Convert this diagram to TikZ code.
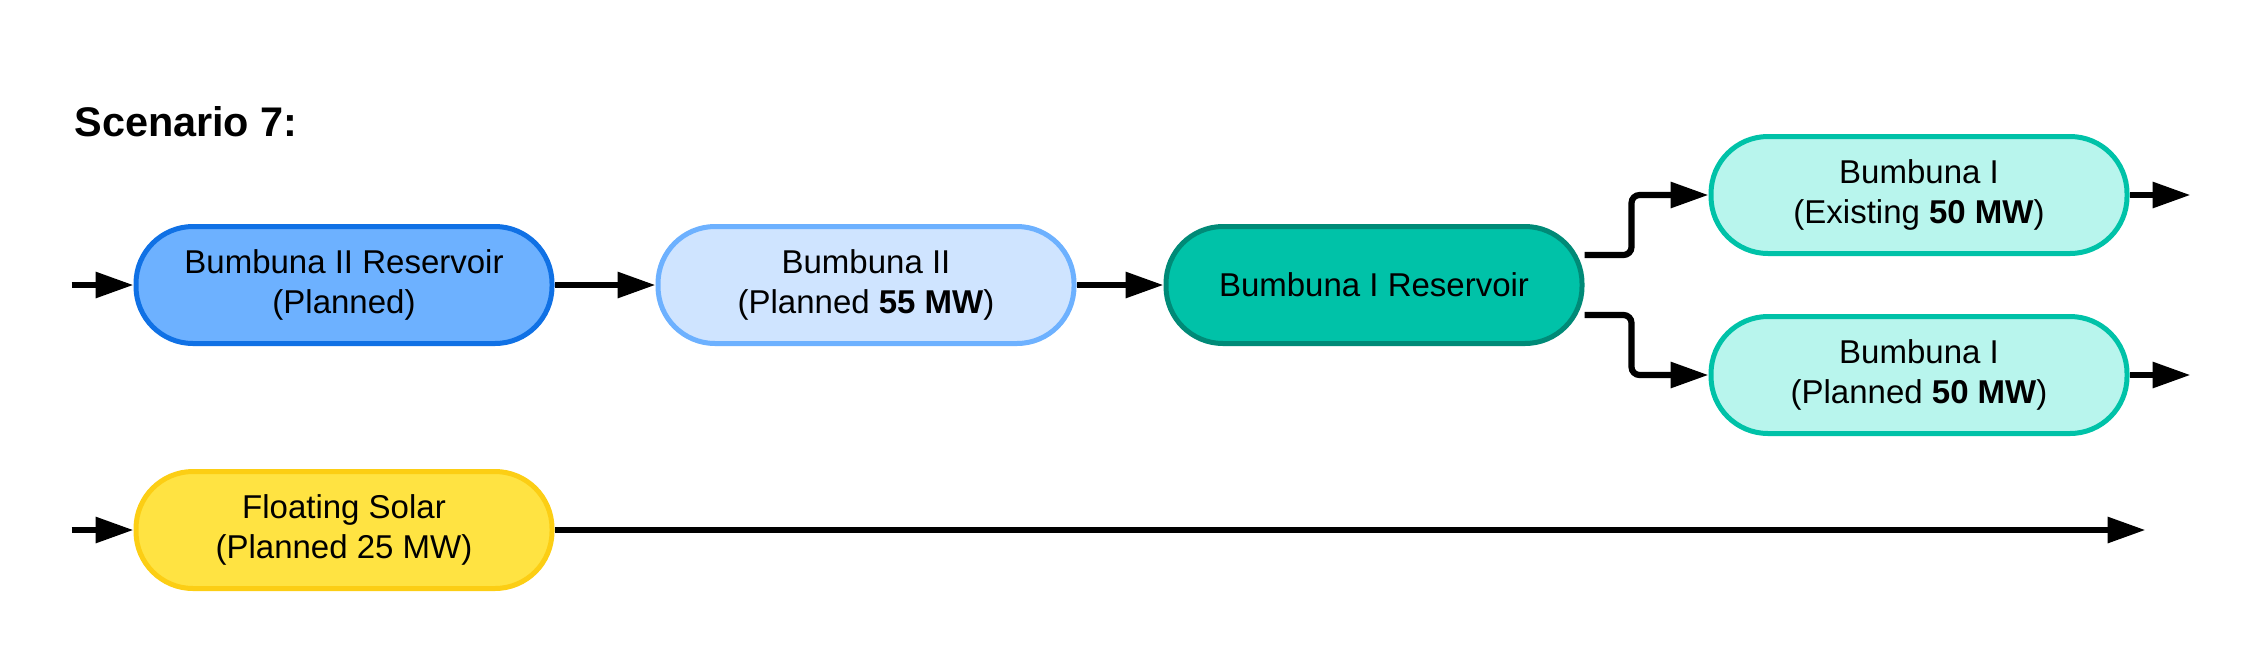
\documentclass[tikz,border=0pt]{standalone}
\usepackage{fontspec}
\setmainfont{Liberation Sans}
\usepackage{xcolor}
\usepackage{tikz}
\usetikzlibrary{shapes.geometric, arrows.meta, positioning, calc}

\definecolor{blueline}{HTML}{1071E5}
\definecolor{bluefill}{HTML}{6DB1FF}
\definecolor{paleblue}{HTML}{CFE4FF}
\definecolor{tealline}{HTML}{008A77}
\definecolor{tealfill}{HTML}{00C2A8}
\definecolor{paleteal}{HTML}{B8F5ED}
\definecolor{sunline}{HTML}{FCCE14}
\definecolor{sunfill}{HTML}{FFE342}

\begin{document}
\begin{tikzpicture}[
  node distance = 50pt,
  unit/.style = {draw, rectangle, rounded corners=28.5pt, line width=2.5pt, minimum width=208pt, minimum height=58.5pt, align=center, font=\fontsize{16.5}{20}\selectfont},
  line/.style = {draw, line width=3.1pt, -{Triangle[length=19pt,width=12.5pt]}}
  ]
 \useasboundingbox (0,0) rectangle (1120.5pt,-330pt);
 % Title
 \node[anchor=base west, inner sep=0pt, font=\fontsize{20.7}{24}\selectfont\bfseries] (title) at (37pt,-68pt) {Scenario 7:};
 % Top row
 \node[unit, draw=blueline, fill=bluefill] (reservoirII) at (172pt,-142.5pt)
  {Bumbuna II Reservoir\\
  (Planned)};
 \node[unit, draw=bluefill, fill=paleblue, right=50.5pt of reservoirII] (bumbunaII)
  {Bumbuna II\\
  (Planned \textbf{55 MW})};
 \node[unit, draw=tealline, fill=tealfill, right=43.5pt of bumbunaII] (reservoirI)
  {Bumbuna I Reservoir};
 % Bumbuna I units
 \node[unit, draw=tealfill, fill=paleteal, right=62pt of reservoirI, yshift=45pt] (existingI)
  {Bumbuna I\\
  (Existing \textbf{50 MW})};
 \node[unit, draw=tealfill, fill=paleteal, right=62pt of reservoirI, yshift=-45pt] (plannedI)
  {Bumbuna I\\
  (Planned \textbf{50 MW})};
 % Solar
 \node[unit, draw=sunline, fill=sunfill, below=61.5pt of reservoirII] (solar)
  {Floating Solar\\
  (Planned 25 MW)};
 % Free ends
 \coordinate[left=31pt of reservoirII] (inII);
 \coordinate[left=31pt of solar] (inSolar);
 \coordinate[right=30.5pt of existingI] (outExisting);
 \coordinate[right=30.5pt of plannedI] (outPlanned);
 \coordinate[right=795.5pt of solar] (outSolar);
 % Arrows
 \draw[line] (inII) -- (reservoirII);
 \draw[line] (reservoirII) -- (bumbunaII);
 \draw[line] (bumbunaII) -- (reservoirI);
 \draw[line, rounded corners=4pt] ([yshift=15pt]reservoirI.east) -- ++(23.5pt,0) |- (existingI.west);
 \draw[line, rounded corners=4pt] ([yshift=-15pt]reservoirI.east) -- ++(23.5pt,0) |- (plannedI.west);
 \draw[line] (existingI) -- (outExisting);
 \draw[line] (plannedI) -- (outPlanned);
 \draw[line] (inSolar) -- (solar);
 \draw[line] (solar) -- (outSolar);
\end{tikzpicture}
\end{document}
